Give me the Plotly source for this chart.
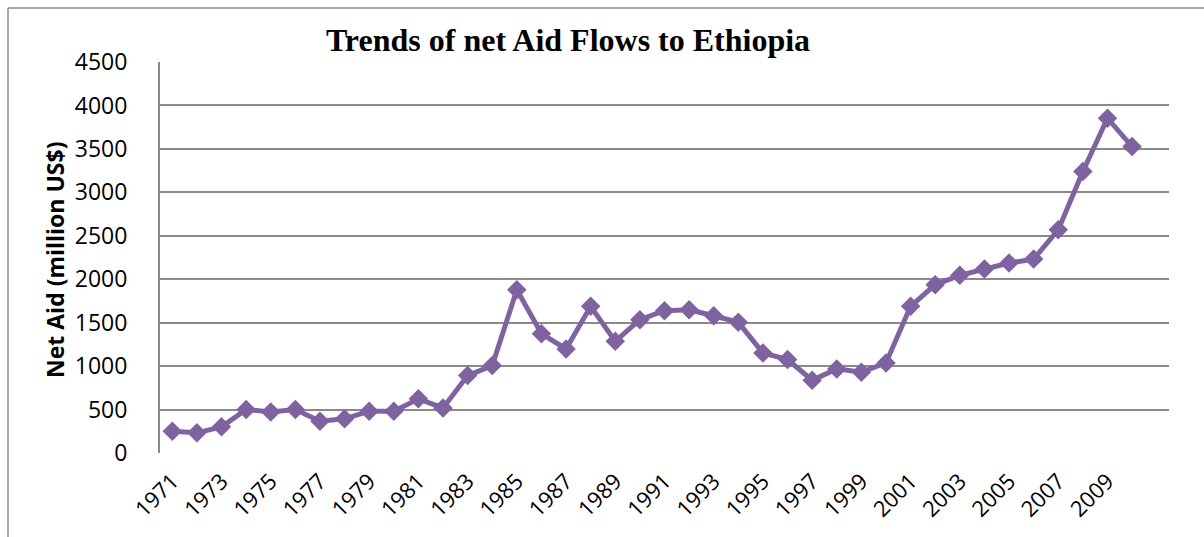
import plotly.graph_objects as go

# Net official development assistance received by Ethiopia, million US$
years = list(range(1971, 2011))
net_aid = [
    250, 232, 301, 500, 473, 500, 366, 393, 481, 481,
    623, 519, 891, 1006, 1879, 1373, 1197, 1688, 1285, 1534,
    1638, 1649, 1580, 1504, 1151, 1075, 837, 968, 929, 1037,
    1688, 1937, 2045, 2117, 2186, 2232, 2569, 3239, 3853, 3527,
]
tick_years = list(range(1971, 2011, 2))
y_ticks = list(range(0, 5000, 500))

W, H = 1204, 537
L, R, T, B = 160, 35, 62, 84
plot_w = W - L - R
plot_h = H - T - B


def px_x(px):
    return (px - L) / plot_w


def px_y(py):
    return (H - B - py) / plot_h


PURPLE = "#7f63a1"
GRID = "#8a8a8a"
Y_TICK_FONT = dict(family="Open Sans", size=23, color="#000000")
X_TICK_FONT = dict(family="Open Sans", size=22, color="#000000")

fig = go.Figure()
fig.add_trace(go.Scatter(
    x=years,
    y=net_aid,
    mode="lines+markers",
    line=dict(color=PURPLE, width=5),
    marker=dict(symbol="diamond", size=15, color=PURPLE),
    showlegend=False,
    hoverinfo="x+y",
))

fig.update_layout(
    width=W,
    height=H,
    margin=dict(l=L, r=R, t=T, b=B, autoexpand=False),
    paper_bgcolor="white",
    plot_bgcolor="white",
    title=dict(
        text="<b>Trends of net Aid Flows to Ethiopia</b>",
        font=dict(family="Liberation Serif", size=32, color="#000000"),
        xref="container", yref="container",
        x=568 / W, y=1 - 40 / H,
        xanchor="center", yanchor="middle",
    ),
    xaxis=dict(
        range=[1970.5, 2011.5],
        tickmode="array",
        tickvals=tick_years,
        ticktext=[str(y) for y in tick_years],
        tickangle=-45,
        tickfont=X_TICK_FONT,
        ticklabelstandoff=10,
        showgrid=False,
        zeroline=False,
        showline=False,
        ticks="",
        automargin=False,
        fixedrange=True,
    ),
    yaxis=dict(
        range=[0, 4500],
        tickmode="array",
        tickvals=y_ticks,
        ticktext=[str(v) for v in y_ticks],
        tickfont=Y_TICK_FONT,
        ticklabelstandoff=26,
        showgrid=True,
        gridcolor=GRID,
        gridwidth=2,
        zeroline=False,
        showline=True,
        linecolor=GRID,
        linewidth=2,
        ticks="",
        automargin=False,
        fixedrange=True,
    ),
    annotations=[
        dict(
            text="<b>Net Aid (million US$)</b>",
            textangle=-90,
            xref="paper", yref="paper",
            x=px_x(55), y=px_y(260),
            xanchor="center", yanchor="middle",
            showarrow=False,
            font=dict(family="Open Sans", size=23, color="#000000"),
        )
    ],
    shapes=[
        # outer chart frame (top and left edges)
        dict(type="line", xref="paper", yref="paper",
             x0=px_x(8), x1=px_x(W), y0=px_y(8), y1=px_y(8),
             line=dict(color="#8c8c8c", width=1.5)),
        dict(type="line", xref="paper", yref="paper",
             x0=px_x(8), x1=px_x(8), y0=px_y(8), y1=px_y(H),
             line=dict(color="#8c8c8c", width=1.5)),
    ],
)

fig.write_html("out.html")
